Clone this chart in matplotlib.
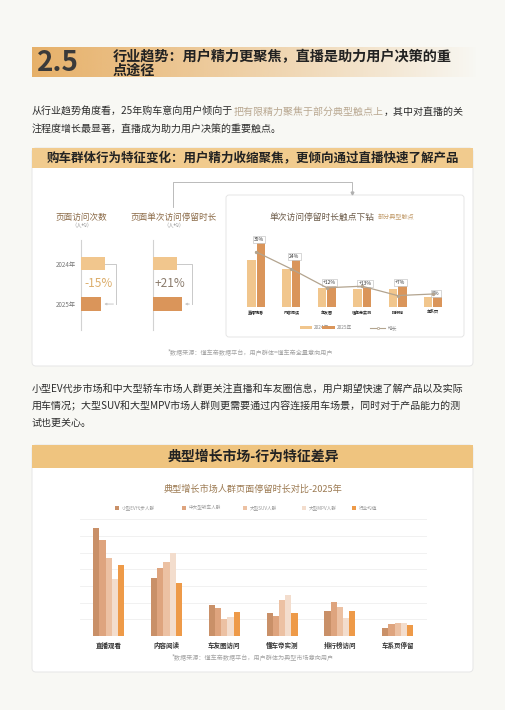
import matplotlib
matplotlib.use('Agg')
import matplotlib.pyplot as plt
import matplotlib.colors as mcolors
import matplotlib.transforms as mtransforms
import numpy as np
from matplotlib.patches import FancyBboxPatch, Rectangle

plt.rcParams['font.family'] = ['Noto Sans CJK SC', 'DejaVu Sans']

# ---------------- data ----------------
years = ['2024年', '2025年']
visits = [100, 85]
visits_change = '-15%'
stay = [100, 121]
stay_change = '+21%'

touch_cats = ['直播观看', '内容阅读', '车友圈', '懂车帝实测', '排行榜', '车系页']
dur_2024 = [47, 38, 19, 18, 18, 9.5]
dur_2025 = [64, 47, 21, 20, 21, 10]
growth = [35, 24, 12, 13, 7, 8]
growth_labels = ['35%', '24%', '+12%', '+13%', '+7%', '8%']

market_cats = ['直播观看', '内容阅读', '车友圈访问', '懂车帝实测', '排行榜访问', '车系页停留']
market_series = ['小型EV代步人群', '中大型轿车人群', '大型SUV人群', '大型MPV人群', '行业均值']
ev_small = [130, 70, 37, 28, 30, 10]
sedan_large = [115, 82, 34, 24, 41, 14]
suv_large = [94, 89, 20, 43, 35, 16]
mpv_large = [68, 100, 23, 49, 22, 16]
industry_avg = [85, 64, 29, 28, 30, 13]

# ---------------- styles ----------------
W, H = 505, 710
C24 = '#f1c68d'
C25 = '#da955a'
market_colors = ['#c99068', '#dea47e', '#ecc1a3', '#f3ddcd', '#ee9a48']
TXT = '#2b2b2b'

fig = plt.figure(figsize=(W / 100, H / 100), dpi=100)
fig.patch.set_facecolor('#f8f8f4')
bg = fig.add_axes([0, 0, 1, 1])
bg.axis('off')
bg.set_zorder(0)


def px_axes(x0, y0, x1, y1):
    ax = fig.add_axes([x0 / W, 1 - y1 / H, (x1 - x0) / W, (y1 - y0) / H])
    ax.set_facecolor('none')
    ax.set_zorder(2)
    for s in ax.spines.values():
        s.set_visible(False)
    return ax


def runs(x, y, parts, fs, weight='medium'):
    r = fig.canvas.get_renderer()
    for s, col in parts:
        t = bg.text(x, y, s, fontsize=fs, color=col, va='center', ha='left', fontweight=weight)
        x += t.get_window_extent(renderer=r).width


# ---------------- title band ----------------
grad = np.zeros((1, 256, 4))
grad[..., :3] = mcolors.to_rgb('#e6ad62')
grad[..., 3] = np.linspace(0.95, 0.0, 256) ** 0.9
bg.imshow(grad, extent=(32, 478, 77, 47), aspect='auto', zorder=1)
bg.text(37, 63, '2.5', fontsize=20, fontweight='bold', color='#3a3a3a', va='center', zorder=3)
bg.text(113, 57, '行业趋势：用户精力更聚焦，直播是助力用户决策的重', fontsize=10.2,
        fontweight='bold', color='#222222', va='center', zorder=3)
bg.text(113, 71, '点途径', fontsize=10.2, fontweight='bold', color='#222222', va='center', zorder=3)

# paragraph 1
runs(32, 112, [('从行业趋势角度看，25年购车意向用户倾向于', TXT),
               ('把有限精力聚焦于部分典型触点上', '#b9a891'),
               ('，其中对直播的关', TXT)], 7.2)
runs(32, 129, [('注程度增长最显著，直播成为助力用户决策的重要触点。', TXT)], 7.2)

# ---------------- section 1 ----------------
bg.add_patch(FancyBboxPatch((32, 148), 441, 218, boxstyle='round,pad=0,rounding_size=4',
                            fc='white', ec='#e6e6e6', lw=0.7, zorder=1))
bg.add_patch(Rectangle((32, 148), 441, 20, fc='#f1cb8e', ec='none', zorder=1.5))
bg.text(252.5, 158, '购车群体行为特征变化：用户精力收缩聚焦，更倾向通过直播快速了解产品',
        fontsize=9, fontweight='bold', color='#222222', ha='center', va='center', zorder=3)

# mini titles
for cx, title in [(81.5, '页面访问次数'), (173.5, '页面单次访问停留时长')]:
    bg.text(cx, 217, title, fontsize=6.2, color='#8b6a47', ha='center', va='center', zorder=3)
    bg.text(cx, 226, '（人均）', fontsize=3.8, color='#9a9a9a', ha='center', va='center', zorder=3)


def mini(x0, vals, change, change_color, bracket_frac, show_years):
    bg.plot([x0, x0], [240, 330], color='#d2d2d2', lw=0.8, zorder=2)
    ax = px_axes(x0, 240, x0 + 44, 330)
    ax.barh([0, 1], vals, height=0.33, color=[C24, C25], zorder=2)
    ax.set_xlim(0, 183)
    ax.set_ylim(1.64, -0.58)
    ax.set_xticks([])
    tr = mtransforms.blended_transform_factory(ax.transAxes, ax.transData)
    bx = bracket_frac
    ax.plot([vals[0] / 183, bx, bx], [0, 0, 1], color='#c9c9c9', lw=0.7, transform=tr)
    ax.annotate('', xy=(vals[1] / 183, 1), xytext=(bx, 1), xycoords=tr, textcoords=tr,
                arrowprops=dict(arrowstyle='-|>', color='#c9c9c9', lw=0.7, mutation_scale=3))
    ax.text(0.39, 0.5, change, fontsize=8.5, color=change_color, ha='center', va='center',
            transform=tr, fontweight='medium')
    if show_years:
        ax.set_yticks([0, 1])
        ax.set_yticklabels(years, fontsize=4.5, color='#777777')
        ax.tick_params(axis='y', length=0, pad=4)
    else:
        ax.set_yticks([])


mini(81, visits, visits_change, '#dcae6c', 0.8, True)
mini(153, stay, stay_change, '#8a7b6c', 0.89, False)

# connector
bg.plot([173, 173, 352, 352], [207, 182, 182, 192], color='#b0b0b0', lw=0.6, zorder=2)
bg.plot([352], [193], marker='v', ms=2, color='#b0b0b0', zorder=2)

# inner panel
bg.add_patch(FancyBboxPatch((226, 195), 238, 142, boxstyle='round,pad=0,rounding_size=3',
                            fc='white', ec='#e2e2e2', lw=0.6, zorder=1.6))
bg.text(322.5, 217, '单次访问停留时长触点下钻', fontsize=6.3, color='#6b5a48',
        ha='center', va='center', zorder=3)
bg.text(378, 217.5, '部分典型触点', fontsize=4.4, color='#c29c6c', ha='left', va='center', zorder=3)

axb = px_axes(238.4, 230, 450.6, 306.5)
x = np.arange(len(touch_cats))
axb.bar(x - 0.135, dur_2024, width=0.24, color=C24, zorder=2)
axb.bar(x + 0.135, dur_2025, width=0.24, color=C25, zorder=2)
axb.set_xlim(-0.5, 5.5)
axb.set_ylim(0, 76.5)
axb.set_yticks([])
axb.set_xticks(x)
axb.set_xticklabels(touch_cats, fontsize=2.9, fontweight='bold', color='#333333')
axb.tick_params(axis='x', length=0, pad=3)
for i, lab in enumerate(growth_labels):
    axb.text(i + 0.08, dur_2025[i] + 3, lab, fontsize=3.6, color='#333333', ha='center',
             va='center', zorder=5,
             bbox=dict(boxstyle='square,pad=0.25', fc='white', ec='#b9b9b9', lw=0.4))
axt = axb.twinx()
axt.set_facecolor('none')
for s in axt.spines.values():
    s.set_visible(False)
axt.plot(x, growth, color='#b3a48f', lw=0.9, marker='o', ms=1.4, zorder=4)
axt.set_ylim(0, 49)
axt.set_yticks([])

# legend of chart 1
bg.add_patch(Rectangle((300, 326), 12, 3, fc=C24, ec='none', zorder=3))
bg.text(314, 327.5, '2024年', fontsize=3.4, color='#888888', va='center', zorder=3)
bg.add_patch(Rectangle((322, 326), 13, 3, fc=C25, ec='none', zorder=3))
bg.text(337, 327.5, '2025年', fontsize=3.4, color='#888888', va='center', zorder=3)
bg.plot([370, 385], [327.5, 327.5], color='#b3a48f', lw=0.8, zorder=3)
bg.plot([377.5], [327.5], marker='o', ms=1.6, mfc='white', mec='#b3a48f', mew=0.5, zorder=3)
bg.text(388, 327.5, '增长', fontsize=3.4, color='#888888', va='center', zorder=3)

bg.text(250, 353, '*数据来源：懂车帝数据平台，用户群体=懂车帝全量意向用户', fontsize=4.4,
        color='#a3a3a3', ha='center', va='center', zorder=3)

# paragraph 2
runs(32, 389, [('小型EV代步市场和中大型轿车市场人群更关注直播和车友圈信息，用户期望快速了解产品以及实际', TXT)], 7.2)
runs(32, 406, [('用车情况；大型SUV和大型MPV市场人群则更需要通过内容连接用车场景，同时对于产品能力的测', TXT)], 7.2)
runs(32, 423, [('试也更关心。', TXT)], 7.2)

# ---------------- section 2 ----------------
bg.add_patch(FancyBboxPatch((32, 445), 441, 227, boxstyle='round,pad=0,rounding_size=4',
                            fc='white', ec='#e6e6e6', lw=0.7, zorder=1))
bg.add_patch(Rectangle((32, 445), 441, 23, fc='#efc47f', ec='none', zorder=1.5))
bg.text(253, 456.5, '典型增长市场-行为特征差异', fontsize=10, fontweight='bold',
        color='#222222', ha='center', va='center', zorder=3)
bg.text(253, 489, '典型增长市场人群页面停留时长对比-2025年', fontsize=6.6, color='#9c7a52',
        ha='center', va='center', zorder=3)
for lx, name, col in zip([115, 182, 243, 302, 352], market_series, market_colors):
    bg.add_patch(Rectangle((lx, 506), 4, 4, fc=col, ec='none', zorder=3))
    bg.text(lx + 6.5, 508, name, fontsize=3.3, color='#9a9a9a', va='center', zorder=3)

axm = px_axes(79.8, 516, 426.6, 636)
xm = np.arange(len(market_cats))
series = [ev_small, sedan_large, suv_large, mpv_large, industry_avg]
bw = 0.107
for k, (vals, col) in enumerate(zip(series, market_colors)):
    axm.bar(xm + (k - 2) * bw, vals, width=bw, color=col, zorder=2, label=market_series[k])
axm.set_xlim(-0.5, 5.5)
axm.set_ylim(0, 144)
axm.set_yticks(np.arange(20, 141, 20))
axm.set_yticklabels([])
axm.tick_params(axis='y', length=0)
axm.grid(axis='y', color='#efefef', lw=0.6, zorder=0)
axm.set_axisbelow(True)
axm.set_xticks(xm)
axm.set_xticklabels(market_cats, fontsize=4.7, fontweight='bold', color='#333333')
axm.tick_params(axis='x', length=0, pad=4)

bg.text(253, 658, '*数据来源：懂车帝数据平台，用户群体为典型市场意向用户', fontsize=4.4,
        color='#a3a3a3', ha='center', va='center', zorder=3)

bg.set_xlim(0, W)
bg.set_ylim(H, 0)
fig.savefig('out.png', dpi=100, facecolor=fig.get_facecolor())
